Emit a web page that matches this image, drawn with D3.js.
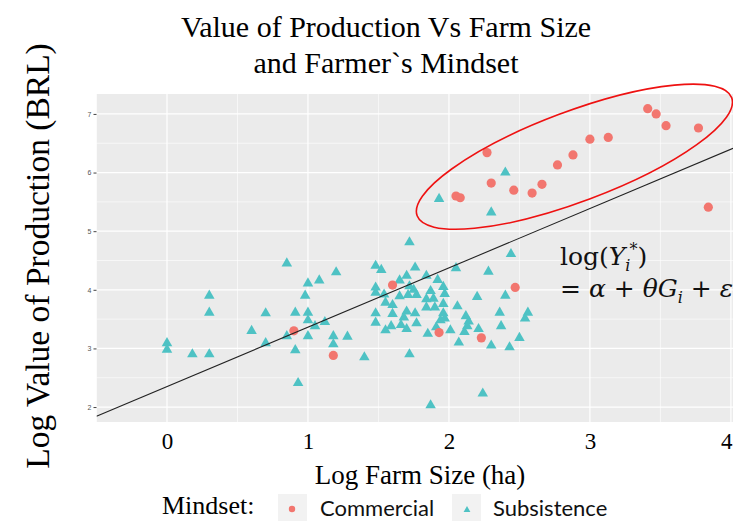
<!DOCTYPE html>
<html>
<head>
<meta charset="utf-8">
<script src="https://cdn.jsdelivr.net/npm/d3@7"></script>
<style>
  html, body { margin: 0; padding: 0; background: #fff; }
  svg { display: block; }
</style>
</head>
<body>
<svg id="chart" width="733" height="521"></svg>
<script>
// Log farm size (x) and log value of production (y) per farm, by mindset
const commercial = [
  [3.41, 7.09], [3.47, 7.00], [3.54, 6.80], [3.77, 6.76], [3.84, 5.41],
  [3.13, 6.60], [3.00, 6.57], [2.88, 6.30], [2.77, 6.13], [2.66, 5.80],
  [2.59, 5.65], [2.46, 5.70], [2.30, 5.82], [2.27, 6.34], [2.05, 5.60],
  [2.08, 5.57], [0.90, 3.30], [1.18, 2.88], [1.60, 4.08], [2.47, 4.04],
  [1.93, 3.27], [2.23, 3.18]
];
const subsistence = [
  [0.00, 3.09], [0.00, 2.98], [0.18, 2.90], [0.30, 2.90], [0.30, 3.90],
  [0.30, 3.61], [0.60, 3.30], [0.70, 3.60], [0.70, 3.09], [0.85, 4.45],
  [1.00, 4.11], [1.08, 4.16], [0.98, 3.90], [0.91, 3.61], [1.00, 3.61],
  [1.00, 3.48], [1.05, 3.38], [1.12, 3.45], [0.85, 3.21], [1.00, 3.21],
  [0.91, 2.97], [0.93, 2.41], [1.20, 4.30], [1.18, 3.21], [1.18, 3.07],
  [1.28, 3.20], [1.40, 2.85], [1.72, 2.90],
  [1.48, 4.41], [1.52, 4.34], [1.72, 4.81], [1.76, 4.38], [1.48, 4.04],
  [1.48, 3.95], [1.54, 3.92], [1.55, 3.78], [1.65, 4.16], [1.70, 4.24],
  [1.60, 3.74], [1.60, 3.59], [1.48, 3.60], [1.48, 3.44], [1.59, 3.38],
  [1.55, 3.31], [1.66, 3.40], [1.70, 3.33], [1.70, 3.63], [1.76, 3.60],
  [1.77, 3.43], [1.65, 3.89], [1.71, 3.91], [1.77, 3.91], [1.75, 4.00],
  [1.72, 4.06], [1.84, 4.24], [1.87, 3.98], [1.92, 4.17], [1.89, 3.85],
  [1.84, 3.84], [1.84, 3.70], [1.90, 3.70], [1.68, 3.53], [1.85, 3.25],
  [1.91, 3.36], [1.94, 3.48],
  [1.93, 5.55], [2.40, 6.00], [2.30, 5.32], [2.44, 4.61], [2.05, 4.37],
  [2.28, 4.31], [1.96, 4.05], [1.97, 3.93], [2.20, 3.88], [2.40, 3.90],
  [1.96, 3.76], [2.06, 3.72], [1.96, 3.60], [2.12, 3.55], [1.97, 3.51],
  [2.14, 3.46], [2.36, 3.61], [2.56, 3.61], [2.54, 3.51], [2.37, 3.38],
  [2.01, 3.31], [2.11, 3.28], [2.21, 3.33], [2.13, 3.38], [2.50, 3.18],
  [2.43, 3.02], [2.30, 3.05], [2.07, 3.10], [2.24, 2.23], [1.87, 2.03]
];
const xTicks = [0, 1, 2, 3, 4];
const yTicks = [2, 3, 4, 5, 6, 7];
const xMinor = [-0.5, 0.5, 1.5, 2.5, 3.5];
const yMinor = [2.5, 3.5, 4.5, 5.5, 6.5];
// fitted line log(Y) = alpha + theta * log(size)
const fitAlpha = 2.35;
const fitTheta = 1.012;
// highlighted commercial group, centre in data units
const groupCentre = [2.89, 6.27];

const svg = d3.select("#chart");
const panel = { left: 96.5, right: 733, top: 94, bottom: 422 };

const x = d3.scaleLinear().domain([-0.5, 4.015]).range([panel.left, panel.right]);
const y = d3.scaleLinear().domain([1.745, 7.34]).range([panel.bottom, panel.top]);

// panel background
svg.append("rect")
  .attr("x", panel.left).attr("y", panel.top)
  .attr("width", panel.right - panel.left).attr("height", panel.bottom - panel.top)
  .attr("fill", "#EBEBEB");

const grid = svg.append("g");
grid.selectAll(".vminor").data(xMinor).join("line")
  .attr("x1", d => x(d)).attr("x2", d => x(d))
  .attr("y1", panel.top).attr("y2", panel.bottom)
  .attr("stroke", "#fff").attr("stroke-width", 0.6);
grid.selectAll(".hminor").data(yMinor).join("line")
  .attr("y1", d => y(d)).attr("y2", d => y(d))
  .attr("x1", panel.left).attr("x2", panel.right)
  .attr("stroke", "#fff").attr("stroke-width", 0.6);
grid.selectAll(".vmajor").data(xTicks).join("line")
  .attr("x1", d => x(d)).attr("x2", d => x(d))
  .attr("y1", panel.top).attr("y2", panel.bottom)
  .attr("stroke", "#fff").attr("stroke-width", 1.2);
grid.selectAll(".hmajor").data(yTicks).join("line")
  .attr("y1", d => y(d)).attr("y2", d => y(d))
  .attr("x1", panel.left).attr("x2", panel.right)
  .attr("stroke", "#fff").attr("stroke-width", 1.2);

// y axis: small grey ticks
const yAxis = svg.append("g")
  .attr("transform", `translate(${panel.left},0)`)
  .call(d3.axisLeft(y).tickValues(yTicks).tickSize(3).tickPadding(2).tickFormat(d3.format("d")));
yAxis.select(".domain").remove();
yAxis.selectAll(".tick line").attr("stroke", "#444");
yAxis.selectAll("text")
  .attr("fill", "#555").style("font-family", "Liberation Sans, Arial, sans-serif").style("font-size", "7px");

// x axis
const xAxis = svg.append("g")
  .attr("transform", `translate(0,${panel.bottom})`)
  .call(d3.axisBottom(x).tickValues(xTicks).tickSize(0).tickPadding(11).tickFormat(d3.format("d")));
xAxis.select(".domain").remove();
xAxis.selectAll("text")
  .attr("fill", "#000").style("font-family", "Liberation Serif, Times New Roman, serif").style("font-size", "23px");
// keep the last label inside the page edge
xAxis.selectAll(".tick").filter(d => d === xTicks[xTicks.length - 1])
  .select("text").attr("text-anchor", "end").attr("dx", 1);

// points
svg.append("clipPath").attr("id", "panelClip").append("rect")
  .attr("x", panel.left).attr("y", panel.top)
  .attr("width", panel.right - panel.left).attr("height", panel.bottom - panel.top);

const marks = svg.append("g").attr("clip-path", "url(#panelClip)");
const tri = d3.symbol(d3.symbolTriangle).size(48);
marks.selectAll(".sub").data(subsistence).join("path")
  .attr("d", tri)
  .attr("transform", d => `translate(${x(d[0])},${y(d[1])})`)
  .attr("fill", "#4EC2C4");
marks.selectAll(".com").data(commercial).join("circle")
  .attr("cx", d => x(d[0])).attr("cy", d => y(d[1])).attr("r", 4.6)
  .attr("fill", "#F2766F");

// fitted line
marks.append("line")
  .attr("x1", x(-0.5)).attr("y1", y(fitAlpha + fitTheta * -0.5))
  .attr("x2", x(4.015)).attr("y2", y(fitAlpha + fitTheta * 4.015))
  .attr("stroke", "#222").attr("stroke-width", 1.1);

// outline around the commercial cluster
svg.append("ellipse")
  .attr("cx", 0).attr("cy", 0).attr("rx", 168).attr("ry", 45)
  .attr("transform", `translate(${x(groupCentre[0])},${y(groupCentre[1])}) rotate(-20.6)`)
  .attr("fill", "none").attr("stroke", "#EE1111").attr("stroke-width", 1.6);

// model equation
const eq = svg.append("g")
  .style("font-family", "DejaVu Serif, Liberation Serif, serif")
  .style("font-size", "25px").attr("fill", "#111");
const l1 = eq.append("text").attr("x", 560).attr("y", 265);
l1.append("tspan").text("log(");
l1.append("tspan").attr("font-style", "italic").text("Y");
l1.append("tspan").attr("font-style", "italic").attr("font-size", "16px").attr("dy", 6).text("i");
l1.append("tspan").attr("font-size", "16px").attr("dx", -1).attr("dy", -16).text("*");
l1.append("tspan").attr("dy", 10).text(")");
const l2 = eq.append("text").attr("x", 560).attr("y", 297);
l2.append("tspan").text("= ");
l2.append("tspan").attr("font-style", "italic").text("α");
l2.append("tspan").text(" + ");
l2.append("tspan").attr("font-style", "italic").text("θG");
l2.append("tspan").attr("font-style", "italic").attr("font-size", "16px").attr("dy", 6).text("i");
l2.append("tspan").attr("dy", -6).text(" + ");
l2.append("tspan").attr("font-style", "italic").text("ε");

// titles
const serif = "Liberation Serif, Times New Roman, serif";
svg.append("text").attr("x", 386).attr("y", 37).attr("text-anchor", "middle")
  .style("font-family", serif).style("font-size", "30px").text("Value of Production Vs Farm Size");
svg.append("text").attr("x", 386).attr("y", 73).attr("text-anchor", "middle")
  .style("font-family", serif).style("font-size", "30px").text("and Farmer`s Mindset");

svg.append("text").attr("x", 420).attr("y", 484).attr("text-anchor", "middle")
  .style("font-family", serif).style("font-size", "27px").text("Log Farm Size (ha)");

svg.append("text")
  .attr("transform", "translate(49,256) rotate(-90)").attr("text-anchor", "middle")
  .style("font-family", serif).style("font-size", "33.5px").text("Log Value of Production (BRL)");

// legend
svg.append("text").attr("x", 162).attr("y", 514)
  .style("font-family", serif).style("font-size", "26px").text("Mindset:");
const leg = svg.append("g");
leg.append("rect").attr("x", 278).attr("y", 494).attr("width", 29).attr("height", 27).attr("fill", "#F2F2F2");
leg.append("circle").attr("cx", 292).attr("cy", 509).attr("r", 3.2).attr("fill", "#F2766F");
leg.append("text").attr("x", 320).attr("y", 516)
  .style("font-family", "Lato, Open Sans, sans-serif").style("font-size", "22px").attr("fill", "#111").text("Commercial");
leg.append("rect").attr("x", 452).attr("y", 494).attr("width", 29).attr("height", 27).attr("fill", "#F2F2F2");
leg.append("path").attr("d", d3.symbol(d3.symbolTriangle).size(20))
  .attr("transform", "translate(467,510)").attr("fill", "#4EC2C4");
leg.append("text").attr("x", 493).attr("y", 516)
  .style("font-family", "Lato, Open Sans, sans-serif").style("font-size", "22px").attr("fill", "#111").text("Subsistence");
</script>
</body>
</html>
